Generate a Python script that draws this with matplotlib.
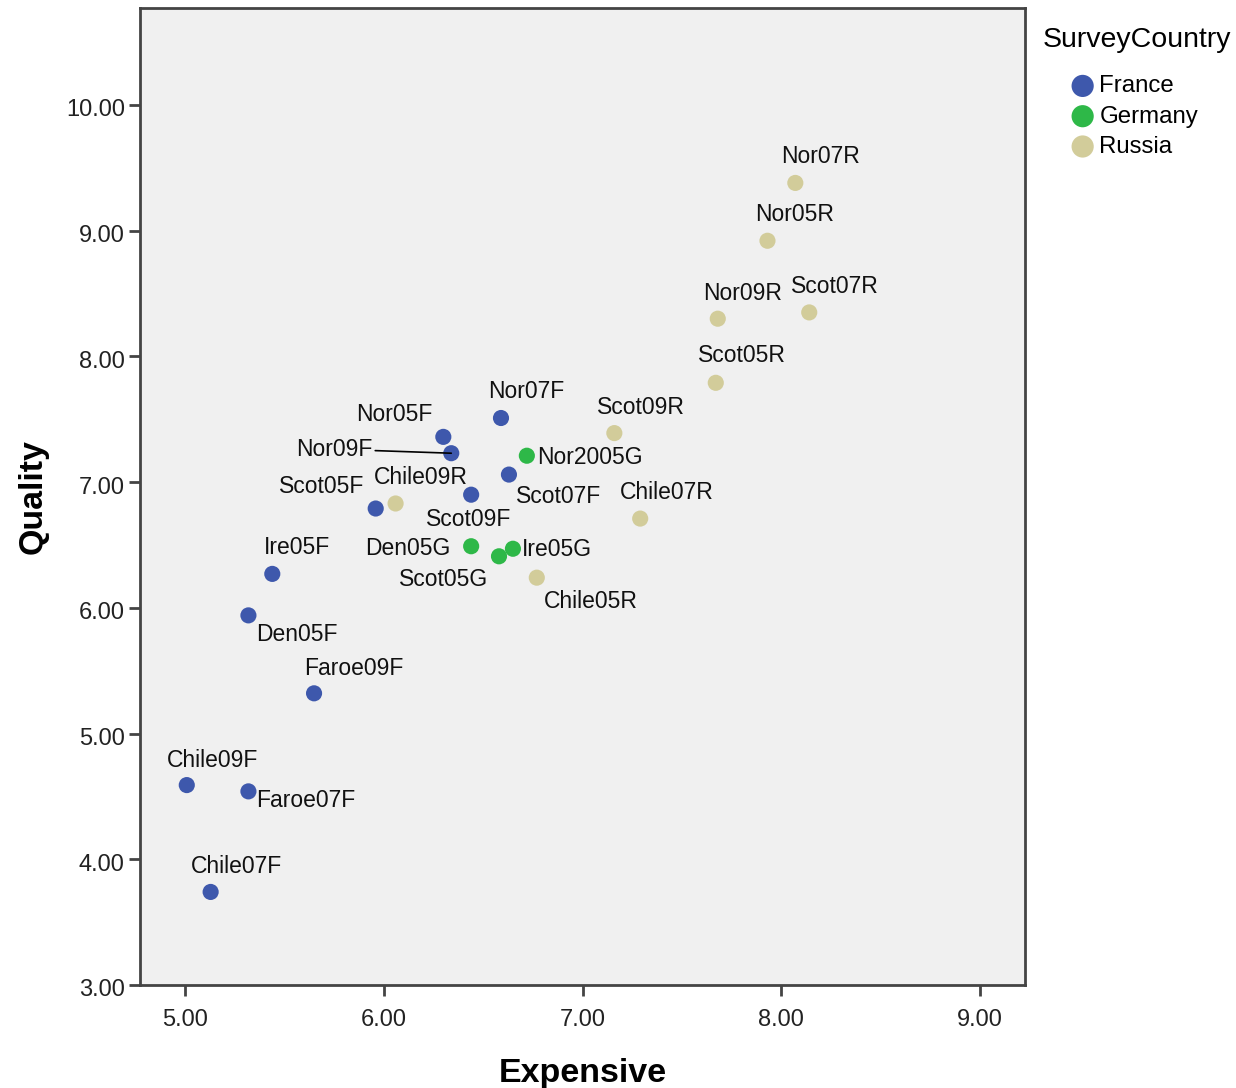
import numpy as np
import matplotlib
matplotlib.use("Agg")
import matplotlib.pyplot as plt
from matplotlib.transforms import ScaledTranslation

plt.rcParams['font.family'] = ['Liberation Sans', 'DejaVu Sans']

# 数据：各调查点的 Expensive / Quality 评分
france_names = ['Nor07F', 'Nor05F', 'Nor09F', 'Scot07F', 'Scot09F', 'Scot05F',
                'Ire05F', 'Den05F', 'Faroe09F', 'Chile09F', 'Faroe07F', 'Chile07F']
france_x = [6.59, 6.30, 6.34, 6.63, 6.44, 5.96, 5.44, 5.32, 5.65, 5.01, 5.32, 5.13]
france_y = [7.51, 7.36, 7.23, 7.06, 6.90, 6.79, 6.27, 5.94, 5.32, 4.59, 4.54, 3.74]

germany_names = ['Nor2005G', 'Den05G', 'Ire05G', 'Scot05G']
germany_x = [6.72, 6.44, 6.65, 6.58]
germany_y = [7.21, 6.49, 6.47, 6.41]

russia_names = ['Nor07R', 'Nor05R', 'Nor09R', 'Scot07R', 'Scot05R', 'Scot09R',
                'Chile09R', 'Chile07R', 'Chile05R']
russia_x = [8.07, 7.93, 7.68, 8.14, 7.67, 7.16, 6.06, 7.29, 6.77]
russia_y = [9.38, 8.92, 8.30, 8.35, 7.79, 7.39, 6.83, 6.71, 6.24]

x_ticks = [5.0, 6.0, 7.0, 8.0, 9.0]
y_ticks = [3.0, 4.0, 5.0, 6.0, 7.0, 8.0, 9.0, 10.0]

# 标签相对点的偏移（像素）
label_offsets = {
    'Nor07F': (25, 27), 'Nor05F': (-49, 22), 'Nor09F': (-117, 4),
    'Scot07F': (50, -22), 'Scot09F': (-2, -25), 'Scot05F': (-54, 22),
    'Ire05F': (25, 26), 'Den05F': (48, -19), 'Faroe09F': (40, 25),
    'Chile09F': (26, 25), 'Faroe07F': (57, -9), 'Chile07F': (26, 25),
    'Nor2005G': (63, -2), 'Den05G': (-63, -2), 'Ire05G': (44, -1),
    'Scot05G': (-55, -23),
    'Nor07R': (25, 26), 'Nor05R': (27, 26), 'Nor09R': (25, 25),
    'Scot07R': (26, 26), 'Scot05R': (26, 27), 'Scot09R': (27, 26),
    'Chile09R': (25, 26), 'Chile07R': (27, 26), 'Chile05R': (54, -24),
}

colors = {'France': '#3e58ac', 'Germany': '#2eb848', 'Russia': '#d2cc9a'}

fig = plt.figure(figsize=(12.36, 10.88), dpi=100)
ax = fig.add_axes([0.1133, 0.0947, 0.716, 0.898])
ax.set_facecolor('#f0f0f0')

groups = [('France', france_names, france_x, france_y),
          ('Germany', germany_names, germany_x, germany_y),
          ('Russia', russia_names, russia_x, russia_y)]

for country, names, xs, ys in groups:
    ax.scatter(xs, ys, s=135, color=colors[country], label=country,
               edgecolors='none', zorder=3)
    for name, x, y in zip(names, xs, ys):
        dx, dy = label_offsets[name]
        arrow = None
        if name == 'Nor09F':
            arrow = dict(arrowstyle='-', color='black', lw=1.2,
                         shrinkA=0, shrinkB=0)
        ax.annotate(name, (x, y), xytext=(dx, dy), textcoords='offset pixels',
                    ha='center', va='center', fontsize=16.5, color='#111111',
                    arrowprops=arrow, zorder=4)

ax.set_xlim(4.775, 9.225)
ax.set_ylim(3.0, 10.772)
ax.set_xticks(x_ticks)
ax.set_yticks(y_ticks)
ax.set_xticklabels([f'{v:.2f}' for v in x_ticks])
ax.set_yticklabels([f'{v:.2f}' for v in y_ticks])
ax.tick_params(direction='out', length=8, width=2, color='#444444',
               labelsize=17, labelcolor='#222222')
ax.tick_params(axis='x', pad=9)
ax.tick_params(axis='y', pad=3)
# 刻度文字稍微下移，和原图一致
shift = ScaledTranslation(0, -3 / 100, fig.dpi_scale_trans)
for lbl in ax.get_yticklabels():
    lbl.set_transform(lbl.get_transform() + shift)
for sp in ax.spines.values():
    sp.set_color('#444444')
    sp.set_linewidth(2)

ax.set_xlabel('Expensive', fontsize=24.5, fontweight='bold', labelpad=20)
ax.set_ylabel('Quality', fontsize=24.5, fontweight='bold', labelpad=12)

leg = ax.legend(title='SurveyCountry', loc='upper left',
                bbox_to_anchor=(1043 / 1236, 1 - 27 / 1088),
                bbox_transform=fig.transFigure,
                frameon=False, fontsize=17.3, title_fontsize=20.5,
                handlelength=3.3, handletextpad=-0.95, labelspacing=0.345,
                markerscale=1.375, borderaxespad=0, borderpad=0)
leg._legend_box.align = 'left'
leg._legend_box.sep = 16

fig.savefig('out.png', dpi=100)
